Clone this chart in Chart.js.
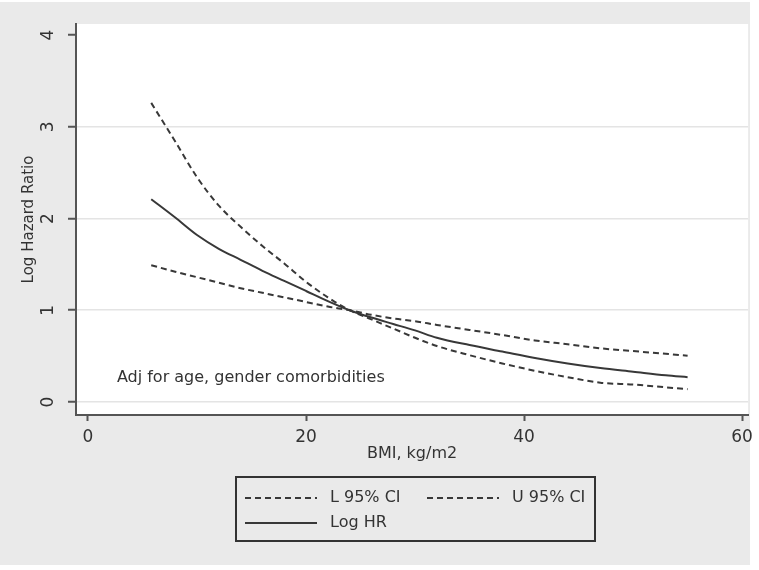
<!DOCTYPE html>
<html lang="en">
<head>
<meta name="viewport" content="width=device-width, initial-scale=1">
<script src="https://cdn.jsdelivr.net/npm/chart.js"></script>
<style>
  body { margin: 0; background: #fff; }
  .chart-box { position: relative; width: 759px; height: 570px; }
</style>
</head>
<body>

<div class="chart-box">
    <canvas id="hrChart"></canvas>
</div>

<script>
    // values
    const bmi     = [5.8, 8, 10, 12, 14, 16, 18, 20, 22, 24, 26, 28, 30, 32, 35, 38, 41, 44, 47, 50, 53, 55];
    const logHR   = [2.21, 2.01, 1.82, 1.67, 1.55, 1.43, 1.32, 1.21, 1.10, 1.00, 0.92, 0.85, 0.78, 0.70, 0.62, 0.55, 0.48, 0.42, 0.37, 0.33, 0.29, 0.27];
    const lowerCI = [1.49, 1.42, 1.36, 1.30, 1.24, 1.19, 1.14, 1.09, 1.04, 1.00, 0.95, 0.91, 0.88, 0.84, 0.785, 0.73, 0.67, 0.63, 0.585, 0.555, 0.525, 0.505];
    const upperCI = [3.26, 2.84, 2.45, 2.14, 1.91, 1.70, 1.51, 1.31, 1.14, 1.00, 0.90, 0.80, 0.70, 0.61, 0.51, 0.42, 0.34, 0.27, 0.21, 0.19, 0.16, 0.14];
    const xTicks  = [0, 20, 40, 60];
    const yTicks  = [0, 1, 2, 3, 4];
    const note    = "Adj for age, gender comorbidities";

    const ink = '#383838';
    const font = '"DejaVu Sans"';

    const pts = ys => bmi.map((x, i) => ({ x: x, y: ys[i] }));

    // grey page, white plot region
    const backdrop = {
        id: 'backdrop',
        beforeDraw(chart) {
            const { ctx, chartArea: a } = chart;
            ctx.save();
            ctx.fillStyle = '#fff';
            ctx.fillRect(0, 0, chart.width, chart.height);
            ctx.fillStyle = '#eaeaea';
            ctx.fillRect(0, 2, 750, 563);
            ctx.fillStyle = '#fff';
            ctx.fillRect(a.left, a.top, a.right - a.left, a.bottom - a.top);
            ctx.restore();
        }
    };

    // rotated y tick labels, the note, and the boxed legend
    const extras = {
        id: 'extras',
        afterDraw(chart) {
            const { ctx, scales, chartArea: a } = chart;
            ctx.save();
            ctx.fillStyle = '#333';
            ctx.font = '17px ' + font;
            ctx.textAlign = 'center';
            ctx.textBaseline = 'middle';
            scales.y.ticks.forEach(t => {
                const py = scales.y.getPixelForValue(t.value);
                ctx.save();
                ctx.translate(49, py);
                ctx.rotate(-Math.PI / 2);
                ctx.fillText(String(t.value), 0, 0);
                ctx.restore();
            });

            ctx.font = '16px ' + font;
            ctx.textAlign = 'left';
            ctx.fillStyle = '#333';
            ctx.fillText(note, scales.x.getPixelForValue(2.65), scales.y.getPixelForValue(0.26));

            // legend box
            const bx = a.left + 160, by = a.bottom + 62;
            ctx.strokeStyle = '#333';
            ctx.lineWidth = 2;
            ctx.strokeRect(bx, by, 359, 64);
            const slots = [[bx + 9, by + 21], [bx + 191, by + 21], [bx + 9, by + 46]];
            chart.data.datasets.forEach((ds, i) => {
                const [sx, sy] = slots[i];
                ctx.beginPath();
                ctx.setLineDash(ds.borderDash || []);
                ctx.lineWidth = ds.borderWidth;
                ctx.strokeStyle = ds.borderColor;
                ctx.moveTo(sx, sy);
                ctx.lineTo(sx + 72, sy);
                ctx.stroke();
                ctx.setLineDash([]);
                ctx.fillStyle = '#333';
                ctx.font = '16px ' + font;
                ctx.fillText(ds.label, sx + 85, sy);
            });
            ctx.restore();
        }
    };

    const ctx = document.getElementById('hrChart').getContext('2d');
    const hrChart = new Chart(ctx, {
        type: 'line',
        data: {
            datasets: [
                { label: 'L 95% CI', data: pts(lowerCI), borderColor: ink, borderWidth: 2, borderDash: [6, 4] },
                { label: 'U 95% CI', data: pts(upperCI), borderColor: ink, borderWidth: 2, borderDash: [6, 4] },
                { label: 'Log HR',   data: pts(logHR),   borderColor: ink, borderWidth: 2 }
            ]
        },
        options: {
            responsive: true,
            maintainAspectRatio: false,
            animation: false,
            elements: {
                point: { radius: 0 },
                line: { cubicInterpolationMode: 'monotone', fill: false }
            },
            layout: { padding: { top: 24, right: 9, bottom: 95, left: 0 } },
            plugins: {
                legend: { display: false },
                tooltip: { enabled: false }
            },
            scales: {
                x: {
                    type: 'linear',
                    min: -1.1,
                    max: 60.55,
                    afterBuildTicks: s => { s.ticks = xTicks.map(v => ({ value: v })); },
                    afterFit: s => { s.height = 60; },
                    grid: { drawOnChartArea: false, drawTicks: true, tickLength: 6, tickColor: '#555', tickWidth: 2 },
                    border: { color: '#555', width: 2 },
                    ticks: { color: '#333', font: { family: font, size: 17 }, padding: 6, maxRotation: 0 },
                    title: { display: true, text: 'BMI, kg/m2', color: '#333', font: { family: font, size: 16 }, padding: { top: 0, bottom: 12 } }
                },
                y: {
                    type: 'linear',
                    min: -0.142,
                    max: 4.12,
                    afterBuildTicks: s => { s.ticks = yTicks.map(v => ({ value: v })); },
                    afterFit: s => { s.width = 76; },
                    grid: {
                        color: c => (c.tick && c.tick.value === 4) ? 'rgba(0,0,0,0)' : '#e4e4e4',
                        lineWidth: 1.5,
                        drawTicks: true,
                        tickLength: 8,
                        tickColor: '#555',
                        tickWidth: 2
                    },
                    border: { color: '#555', width: 2 },
                    ticks: { display: false },
                    title: { display: true, text: 'Log Hazard Ratio', color: '#333', font: { family: font, size: 15 }, padding: { top: 20, bottom: 0 } }
                }
            }
        },
        plugins: [backdrop, extras]
    });
</script>
</body>
</html>
